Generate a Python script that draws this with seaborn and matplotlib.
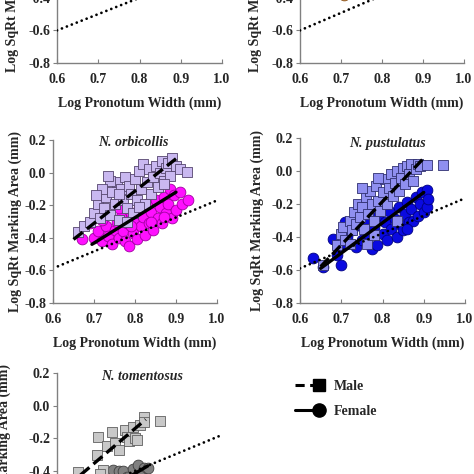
import matplotlib
matplotlib.use("Agg")
import matplotlib.pyplot as plt
import seaborn as sns
from matplotlib.lines import Line2D
from matplotlib.legend_handler import HandlerLine2D

# ---- data ----
x_ticks = [0.6, 0.7, 0.8, 0.9, 1.0]
x_tick_labels = ["0.6", "0.7", "0.8", "0.9", "1.0"]
y_ticks = [-0.8, -0.6, -0.4, -0.2, 0.0, 0.2]
y_tick_labels = ["-0.8", "-0.6", "-0.4", "-0.2", "0.0", "0.2"]

# isometry (dotted) lines
iso_top_left_x = [0.6, 1.0]
iso_top_left_y = [-0.6, -0.2]
iso_top_right_x = [0.6, 1.0]
iso_top_right_y = [-0.6, -0.17]
iso_orb_x = [0.612, 1.02]
iso_orb_y = [-0.575, -0.15]
iso_pus_x = [0.6, 1.0]
iso_pus_y = [-0.59, -0.165]
iso_tom_x = [0.6, 1.0]
iso_tom_y = [-0.6, -0.18]

# top right panel (only one point visible)
top_right_x = [0.707]
top_right_y = [-0.385]

# N. orbicollis
orb_male_x = [0.662, 0.675, 0.69, 0.70, 0.71, 0.715, 0.725, 0.73, 0.74, 0.745,
              0.75, 0.755, 0.76, 0.765, 0.77, 0.775, 0.78, 0.785, 0.79, 0.795,
              0.80, 0.805, 0.81, 0.815, 0.82, 0.825, 0.83, 0.835, 0.84, 0.845,
              0.85, 0.855, 0.86, 0.865, 0.87, 0.875, 0.88, 0.885, 0.89, 0.90,
              0.91, 0.927, 0.74, 0.72, 0.78, 0.81, 0.76, 0.87, 0.735, 0.705]
orb_male_y = [-0.365, -0.33, -0.30, -0.25, -0.19, -0.28, -0.22, -0.15, -0.26, -0.12,
              -0.19, -0.06, -0.29, -0.10, -0.17, -0.03, -0.22, -0.08, -0.13, -0.25,
              -0.04, -0.17, 0.01, -0.10, 0.05, -0.19, -0.06, 0.02, -0.13, -0.03,
              0.04, -0.09, 0.00, 0.07, -0.05, 0.03, 0.06, -0.02, 0.09, 0.04,
              0.02, 0.005, -0.05, -0.10, -0.30, -0.21, -0.13, -0.07, -0.02, -0.14]
orb_fem_x = [0.67, 0.69, 0.70, 0.71, 0.72, 0.73, 0.735, 0.745, 0.75, 0.755,
             0.76, 0.765, 0.77, 0.775, 0.78, 0.785, 0.79, 0.795, 0.80, 0.805,
             0.81, 0.815, 0.82, 0.825, 0.83, 0.835, 0.84, 0.845, 0.85, 0.855,
             0.86, 0.865, 0.87, 0.875, 0.88, 0.885, 0.89, 0.895, 0.90, 0.91,
             0.915, 0.93, 0.72, 0.76, 0.84, 0.79, 0.87]
orb_fem_y = [-0.41, -0.31, -0.40, -0.36, -0.42, -0.33, -0.39, -0.44, -0.35, -0.30,
             -0.40, -0.27, -0.36, -0.42, -0.31, -0.45, -0.25, -0.37, -0.29, -0.41,
             -0.22, -0.33, -0.27, -0.38, -0.19, -0.31, -0.24, -0.35, -0.17, -0.28,
             -0.21, -0.31, -0.15, -0.25, -0.19, -0.10, -0.28, -0.14, -0.23, -0.12,
             -0.19, -0.17, -0.29, -0.22, -0.30, -0.33, -0.27]
orb_male_line_x = [0.65, 0.90]
orb_male_line_y = [-0.41, 0.085]
orb_fem_line_x = [0.695, 0.90]
orb_fem_line_y = [-0.44, -0.12]

# N. pustulatus
pus_male_x = [0.655, 0.69, 0.70, 0.705, 0.71, 0.72, 0.725, 0.73, 0.735, 0.74,
              0.745, 0.75, 0.755, 0.76, 0.762, 0.765, 0.77, 0.775, 0.78, 0.785,
              0.79, 0.795, 0.80, 0.805, 0.81, 0.815, 0.82, 0.825, 0.83, 0.834,
              0.835, 0.84, 0.845, 0.85, 0.855, 0.86, 0.865, 0.87, 0.875, 0.88,
              0.885, 0.89, 0.907, 0.947, 0.78, 0.72, 0.75, 0.79]
pus_male_y = [-0.57, -0.45, -0.38, -0.34, -0.42, -0.30, -0.36, -0.25, -0.32, -0.20,
              -0.28, -0.22, -0.35, -0.16, -0.44, -0.26, -0.12, -0.20, -0.30, -0.09,
              -0.18, -0.24, -0.13, -0.05, -0.20, -0.10, -0.02, -0.15, -0.07, -0.30,
              0.00, -0.12, -0.04, 0.02, -0.08, 0.03, -0.02, 0.04, -0.06, 0.01,
              0.04, 0.03, 0.035, 0.035, -0.39, -0.44, -0.10, -0.04]
pus_fem_x = [0.632, 0.655, 0.68, 0.69, 0.70, 0.705, 0.71, 0.715, 0.725, 0.735,
             0.74, 0.75, 0.76, 0.765, 0.775, 0.78, 0.786, 0.79, 0.80, 0.805,
             0.81, 0.815, 0.82, 0.83, 0.835, 0.84, 0.845, 0.85, 0.855, 0.86,
             0.865, 0.87, 0.875, 0.88, 0.885, 0.89, 0.895, 0.90, 0.907, 0.907,
             0.91, 0.86]
pus_fem_y = [-0.53, -0.58, -0.41, -0.51, -0.57, -0.45, -0.31, -0.40, -0.36, -0.46,
             -0.33, -0.42, -0.29, -0.38, -0.47, -0.34, -0.45, -0.27, -0.38, -0.31,
             -0.42, -0.24, -0.35, -0.29, -0.40, -0.22, -0.33, -0.36, -0.26, -0.19,
             -0.31, -0.23, -0.30, -0.16, -0.27, -0.20, -0.13, -0.25, -0.115, -0.22,
             -0.17, -0.35]
pus_male_line_x = [0.65, 0.897]
pus_male_line_y = [-0.58, 0.07]
pus_fem_line_x = [0.65, 0.90]
pus_fem_line_y = [-0.59, -0.13]

# N. tomentosus
tom_male_x = [0.651, 0.696, 0.70, 0.712, 0.72, 0.733, 0.741, 0.75, 0.765, 0.77,
              0.775, 0.785, 0.79, 0.795, 0.80, 0.81, 0.812, 0.85, 0.705]
tom_male_y = [-0.405, -0.305, -0.19, -0.395, -0.25, -0.16, -0.23, -0.27, -0.15, -0.19,
              -0.215, -0.13, -0.20, -0.21, -0.12, -0.07, -0.10, -0.095, -0.42]
tom_fem_x = [0.736, 0.75, 0.76, 0.785, 0.796, 0.81, 0.82, 0.72, 0.77, 0.80]
tom_fem_y = [-0.395, -0.40, -0.40, -0.39, -0.364, -0.38, -0.38, -0.45, -0.44, -0.43]
tom_male_line_x = [0.655, 0.815]
tom_male_line_y = [-0.43, -0.085]
tom_fem_line_x = [0.70, 0.82]
tom_fem_line_y = [-0.55, -0.37]

sns.set_style("white")
plt.rcParams["font.family"] = ["Liberation Serif", "DejaVu Serif"]
plt.rcParams["font.weight"] = "bold"
plt.rcParams["font.size"] = 10

GRAY = "#808080"
XLAB = "Log Pronotum Width (mm)"
YLAB = "Log SqRt Marking Area (mm)"


class EndMarkerHandler(HandlerLine2D):
    # put the marker only at the right end of the legend line
    def create_artists(self, legend, orig_handle, xdescent, ydescent, width,
                       height, fontsize, trans):
        arts = super().create_artists(legend, orig_handle, xdescent, ydescent,
                                      width, height, fontsize, trans)
        if len(arts) == 1:
            n = len(arts[0].get_xdata())
            arts[0].set_markevery([n - 1])
        else:
            mk = arts[-1]
            mk.set_data([mk.get_xdata()[-1]], [mk.get_ydata()[-1]])
        return arts


def setup_axes(ax, ylab_x):
    ax.set_xlim(0.6, 1.0)
    ax.set_ylim(-0.8, 0.2)
    ax.set_xticks(x_ticks)
    ax.set_xticklabels(x_tick_labels, fontweight="bold")
    ax.set_yticks(y_ticks)
    ax.set_yticklabels(y_tick_labels, fontweight="bold")
    for side in ["top", "right"]:
        ax.spines[side].set_visible(False)
    for side in ["left", "bottom"]:
        ax.spines[side].set_color(GRAY)
        ax.spines[side].set_linewidth(1.0)
    ax.tick_params(axis="x", direction="in", length=3, color=GRAY, pad=7, labelsize=10)
    ax.tick_params(axis="y", direction="out", length=3, color=GRAY, pad=2, labelsize=10)
    ax.tick_params(left=True, bottom=True)
    ax.set_xlabel(XLAB, fontweight="bold", fontsize=10)
    ax.set_ylabel(YLAB, fontweight="bold", fontsize=10)
    ax.xaxis.set_label_coords(0.5, -0.245)
    ax.xaxis.label.set_va("center")
    ax.yaxis.set_label_coords(ylab_x, 0.5)
    ax.yaxis.label.set_va("center")
    ax.patch.set_alpha(0)


def draw_points(ax, mx, my, fx, fy, mcol, medge, fcol, fedge):
    sns.scatterplot(x=fx, y=fy, marker="o", s=60, color=fcol, edgecolor=fedge,
                    linewidth=0.6, ax=ax, zorder=2, clip_on=False)
    sns.scatterplot(x=mx, y=my, marker="s", s=48, color=mcol, edgecolor=medge,
                    linewidth=0.6, ax=ax, zorder=3, clip_on=False)


def draw_lines(ax, mlx, mly, flx, fly, ix, iy):
    if mlx is not None:
        ax.plot(mlx, mly, color="black", lw=2.4, linestyle=(0, (3.5, 1.6)), zorder=5)
    if flx is not None:
        ax.plot(flx, fly, color="black", lw=2.4, zorder=5)
    ax.plot(ix, iy, color="black", lw=2.0, linestyle=(0, (0.01, 1.9)),
            dash_capstyle="round", zorder=4)


fig = plt.figure(figsize=(4.74, 4.74), dpi=100)
W = 474.0


def add_ax(x0, x1, ytop, ybot):
    return fig.add_axes([x0 / W, 1 - ybot / W, (x1 - x0) / W, (ybot - ytop) / W])


ax_tl = add_ax(57, 222, -100, 63)
ax_tr = add_ax(300, 464, -100, 63)
ax_ml = add_ax(53, 217, 140, 303)
ax_mr = add_ax(300, 465, 138, 303)
ax_bl = add_ax(57, 222, 373, 536)

# top left
setup_axes(ax_tl, -0.27)
draw_lines(ax_tl, None, None, None, None, iso_top_left_x, iso_top_left_y)

# top right
setup_axes(ax_tr, -0.27)
sns.scatterplot(x=top_right_x, y=top_right_y, marker="o", s=60, color="#c8823c",
                edgecolor="#8a5520", linewidth=0.6, ax=ax_tr)
draw_lines(ax_tr, None, None, None, None, iso_top_right_x, iso_top_right_y)

# N. orbicollis
setup_axes(ax_ml, -0.232)
draw_points(ax_ml, orb_male_x, orb_male_y, orb_fem_x, orb_fem_y,
            "#c9b8f0", "#55456e", "#ff10ff", "#a000a0")
draw_lines(ax_ml, orb_male_line_x, orb_male_line_y, orb_fem_line_x, orb_fem_line_y,
           iso_orb_x, iso_orb_y)
ax_ml.text(0.49, 0.985, "N. orbicollis", transform=ax_ml.transAxes, ha="center",
           va="center", fontstyle="italic", fontweight="bold", fontsize=10)

# N. pustulatus
setup_axes(ax_mr, -0.26)
draw_points(ax_mr, pus_male_x, pus_male_y, pus_fem_x, pus_fem_y,
            "#8f8ff0", "#303070", "#0a0ae0", "#000080")
draw_lines(ax_mr, pus_male_line_x, pus_male_line_y, pus_fem_line_x, pus_fem_line_y,
           iso_pus_x, iso_pus_y)
ax_mr.text(0.527, 0.965, "N. pustulatus", transform=ax_mr.transAxes, ha="center",
           va="center", fontstyle="italic", fontweight="bold", fontsize=10)

# N. tomentosus
setup_axes(ax_bl, -0.32)
draw_points(ax_bl, tom_male_x, tom_male_y, tom_fem_x, tom_fem_y,
            "#c8c8c8", "#606060", "#808080", "#404040")
draw_lines(ax_bl, tom_male_line_x, tom_male_line_y, tom_fem_line_x, tom_fem_line_y,
           iso_tom_x, iso_tom_y)
ax_bl.text(0.515, 0.98, "N. tomentosus", transform=ax_bl.transAxes, ha="center",
           va="center", fontstyle="italic", fontweight="bold", fontsize=10)

# legend
male_h = Line2D([], [], color="black", lw=2.2, linestyle=(0, (3, 1.8)),
                marker="s", markersize=8)
fem_h = Line2D([], [], color="black", lw=2.2, marker="o", markersize=9.5)
fig.legend([male_h, fem_h], ["Male", "Female"], loc="upper left",
           bbox_to_anchor=(291 / W, 1 - 380 / W), frameon=False, numpoints=2,
           handlelength=2.3, handletextpad=0.8, labelspacing=0.85, borderaxespad=0,
           borderpad=0, handler_map={Line2D: EndMarkerHandler()},
           prop={"weight": "bold", "size": 10})

fig.savefig("out.png", dpi=100)
